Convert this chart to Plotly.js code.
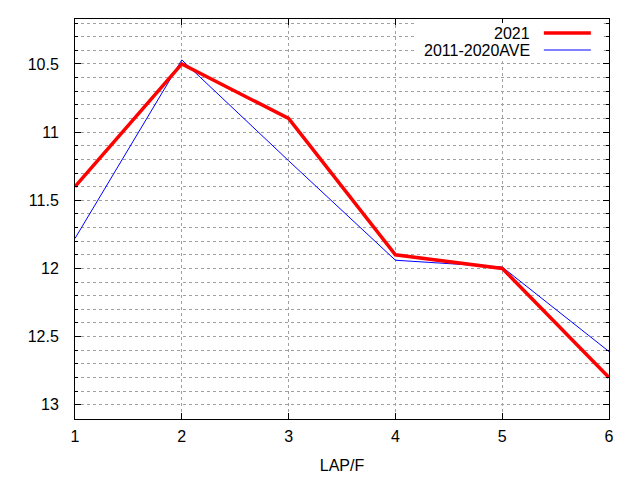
<!DOCTYPE html>
<html>
<head>
<meta charset="utf-8">
<script src="https://cdn.plot.ly/plotly-3.0.1.min.js"></script>
<style>
	html, body { margin: 0; padding: 0; background: #fff; }
	#lap-viz { width: 640px; height: 480px; }
</style>
</head>
<body>
<div id="lap-viz"></div>
<script>
// Data
var xValues       = [1, 2, 3, 4, 5, 6];
var yValues_2021  = [11.4, 10.5, 10.9, 11.9, 12.0, 12.8];
var yValues_avg   = [11.78, 10.47, 11.21, 11.94, 11.99, 12.61];
var series_names  = ['2021', '2011-2020AVE'];
var xTickVals     = [1, 2, 3, 4, 5, 6];
var xTickText     = ['1', '2', '3', '4', '5', '6'];
var yTickVals     = [10.5, 11, 11.5, 12, 12.5, 13];
var yTickText     = ['10.5', '11', '11.5', '12', '12.5', '13'];

var FONT = 'Liberation Sans, Arial, sans-serif';
var FSIZE = 16;
var GRID = '#a0a0a0';

function generate_lap_viz(div_id) {
	// 'trace' for 2021
	var trace_2021 = {
	  x: xValues,
	  y: yValues_2021,
	  type: 'scatter',
	  mode: 'lines',
	  name: series_names[0],
	  hoverinfo: 'none',
	  line: { color: '#ff0000', width: 3.5 }
	};
	// 'trace' for 2011-2020 average
	var trace_avg = {
	  x: xValues,
	  y: yValues_avg,
	  type: 'scatter',
	  mode: 'lines',
	  name: series_names[1],
	  hoverinfo: 'none',
	  line: { color: '#0000ff', width: 1 }
	};

	// gnuplot-style key: text on the left, sample line on the right, white box behind
	var key_rows = [0.965, 0.9225];
	var key_colors = ['#ff0000', '#0000ff'];
	var key_widths = [3.5, 1];
	var shapes = [{
		type: 'rect', xref: 'paper', yref: 'paper', layer: 'above',
		x0: 0.635, x1: 0.99, y0: 0.895, y1: 0.99,
		fillcolor: '#ffffff', line: { width: 0 }
	}];
	var annotations = [];
	for (var i = 0; i < series_names.length; i++) {
		shapes.push({
			type: 'line', xref: 'paper', yref: 'paper', layer: 'above',
			x0: 0.878, x1: 0.966, y0: key_rows[i], y1: key_rows[i],
			line: { color: key_colors[i], width: key_widths[i] }
		});
		annotations.push({
			xref: 'paper', yref: 'paper', x: 0.856, y: key_rows[i],
			xanchor: 'right', yanchor: 'middle', showarrow: false,
			text: series_names[i],
			font: { family: FONT, size: FSIZE, color: '#000' }
		});
	}

	var layout = {
		width: 640,
		height: 480,
		margin: { l: 75, r: 31, t: 19, b: 61 },
		paper_bgcolor: '#ffffff',
		plot_bgcolor: '#ffffff',
		showlegend: false,
		font: { family: FONT, size: FSIZE, color: '#000' },
		xaxis: {
			range: [1, 6],
			tickmode: 'array',
			tickvals: xTickVals,
			ticktext: xTickText,
			ticks: 'inside',
			ticklen: 6,
			tickcolor: '#000',
			ticklabelstandoff: 3,
			showline: true,
			linecolor: '#000',
			linewidth: 1,
			mirror: 'allticks',
			showgrid: true,
			gridcolor: GRID,
			griddash: 'dot',
			gridwidth: 1,
			zeroline: false,
			title: { text: 'LAP/F', font: { family: FONT, size: FSIZE }, standoff: 15 }
		},
		yaxis: {
			range: [13.105, 10.17],
			tickmode: 'array',
			tickvals: yTickVals,
			ticktext: yTickText,
			ticks: 'inside',
			ticklen: 6,
			tickcolor: '#000',
			ticklabelstandoff: 12,
			showline: true,
			linecolor: '#000',
			linewidth: 1,
			mirror: 'allticks',
			showgrid: true,
			gridcolor: GRID,
			griddash: 'dot',
			gridwidth: 1,
			zeroline: false,
			minor: {
				tick0: 10.1,
				dtick: 0.1,
				ticks: 'inside',
				ticklen: 3,
				tickcolor: '#000',
				showgrid: true,
				gridcolor: GRID,
				griddash: 'dot',
				gridwidth: 1
			}
		},
		shapes: shapes,
		annotations: annotations
	};
	Plotly.newPlot(div_id, [trace_avg, trace_2021], layout, { staticPlot: true });
} // generate_lap_viz

generate_lap_viz('lap-viz');
</script>
</body>
</html>
